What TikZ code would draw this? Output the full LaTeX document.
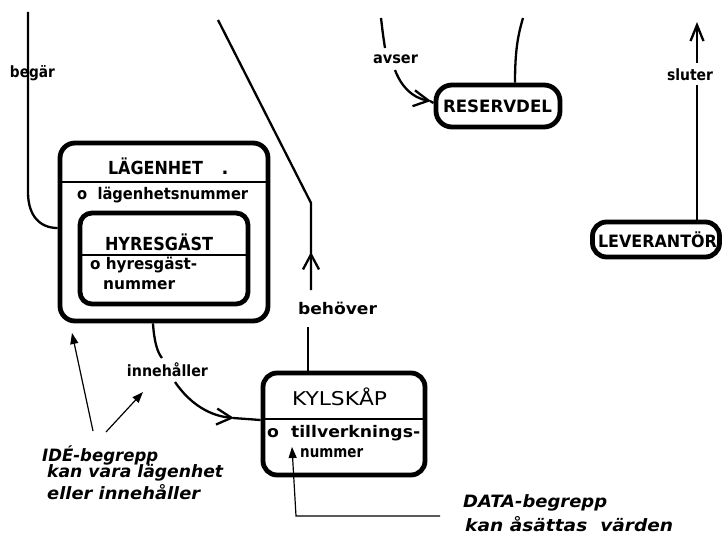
\documentclass[tikz,border=0pt]{standalone}
\usepackage{fontspec}
\setmainfont{DejaVu Sans}
\usetikzlibrary{arrows.meta}
\newcommand\tw[2]{\resizebox{#1}{\height}{#2}}
\begin{document}
\begin{tikzpicture}[x=1pt,y=-1pt,
  ebox/.style={draw, line width=4.8pt, inner sep=0pt},
  conn/.style={line width=2.3pt},
  divider/.style={line width=1.2pt},
  barb/.style={-{Straight Barb[length=15pt,width=16pt]}},
  thinarr/.style={line width=1.2pt,-{Triangle[length=11pt,width=8pt]}},
  lbl/.style={inner sep=0pt, font=\bfseries\fontsize{15.5}{16}\selectfont},
  head/.style={inner sep=0pt, font=\bfseries\fontsize{18}{19}\selectfont},
  attr/.style={inner sep=0pt, anchor=west, font=\bfseries\fontsize{16}{17}\selectfont},
  note/.style={inner sep=0pt, anchor=west, font=\bfseries\itshape\fontsize{17}{18}\selectfont}]
\useasboundingbox (0,0) rectangle (725,535);

% boxes
\node[ebox, rounded corners=15pt, minimum width=208pt, minimum height=178pt] (lag) at (164,232) {};
\node[ebox, rounded corners=12pt, minimum width=168pt, minimum height=91pt] (hyr) at (164,258.5) {};
\node[ebox, rounded corners=14pt, minimum width=162pt, minimum height=102pt] (kyl) at (344,424) {};
\node[ebox, rounded corners=16pt, minimum width=124pt, minimum height=42pt] (res) at (498,106) {};
\node[ebox, rounded corners=14pt, minimum width=127pt, minimum height=35pt] (lev) at (656,239.5) {};

\draw[divider] (lag.west |- 0,182) -- (lag.east |- 0,182);
\draw[divider] (hyr.west |- 0,255) -- (hyr.east |- 0,255);
\draw[divider] (kyl.west |- 0,419) -- (kyl.east |- 0,419);

% box texts
\node[head, anchor=base] (lagT) at (155.5,174) {\tw{95pt}{LÄGENHET}};
\node[head, anchor=base] (lagDot) at (225,174) {.};
\node[attr] (lagA) at (77,195) {\tw{171pt}{o\ \ lägenhetsnummer}};
\node[head] (hyrT) at (159,242) {\tw{108pt}{HYRESGÄST}};
\node[attr] (hyrA1) at (90,265) {\tw{107pt}{o hyresgäst-}};
\node[attr] (hyrA2) at (103,285) {\tw{72pt}{nummer}};
\node[inner sep=0pt, font=\fontsize{19}{20}\selectfont] (kylT) at (339.5,397) {\tw{95pt}{KYLSKÅP}};
\node[attr] (kylA1) at (267,433) {\tw{153pt}{o\ \ tillverknings-}};
\node[attr] (kylA2) at (300,453) {\tw{63pt}{nummer}};
\node[head, font=\bfseries\fontsize{17}{18}\selectfont] (resT) at (497.5,106) {\tw{109pt}{RESERVDEL}};
\node[head, font=\bfseries\fontsize{17}{18}\selectfont] (levT) at (657.5,240) {\tw{119pt}{LEVERANTÖR}};

% connector labels
\node[lbl] (begar) at (32.5,73) {\tw{45pt}{begär}};
\node[lbl, font=\bfseries\fontsize{16}{17}\selectfont] (behover) at (337.5,308) {\tw{79pt}{behöver}};
\node[lbl] (innehaller) at (167.5,370) {\tw{81pt}{innehåller}};
\node[lbl] (avser) at (395.5,59) {\tw{45pt}{avser}};
\node[lbl] (sluter) at (690,75) {\tw{46pt}{sluter}};

% free ends
\coordinate (begtop) at (28,12);
\coordinate (diagtop) at (218,20);
\coordinate (avtop) at (381,18);
\coordinate (restop) at (523,18);
\coordinate (slutop) at (697,22);

% begär
\draw[conn] (begtop) -- (28,192) .. controls (28,216) and (40,228) .. ([yshift=4pt]lag.west);
% behöver
\draw[conn] (diagtop) -- (311,203) -- (311,290);
\draw[conn,barb] (311,282) -- (311,252);
\draw[conn] ([xshift=-36pt]kyl.north) -- (308,327);
% innehåller
\draw[conn] ([xshift=-11pt]lag.south) .. controls (154,340) and (157,352) .. (162,358);
\draw[conn,barb] (175,382) .. controls (190,404) and (210,416) .. (234,418);
\draw[conn] (233,418) -- ([yshift=4pt]kyl.west);
% avser
\draw[conn] (avtop) .. controls (383,35) .. (385,48);
\draw[conn,barb] (395,70) .. controls (401,86) and (412,98) .. (431,101);
\draw[conn] (430,101) -- ([yshift=3pt]res.west);
% reservdel upward line
\draw[conn] ([xshift=17pt]res.north) .. controls (515,50) and (518,35) .. (restop);
% sluter
\draw[conn] ([xshift=41pt]lev.north) -- (697,85);
\draw[conn,-{Straight Barb[length=16pt,width=13pt]}] (697,63) -- (slutop);

% notes
\node[note] (ide1) at (42,455) {\tw{116pt}{IDÉ-begrepp}};
\node[note] (ide2) at (47,473) {\tw{176pt}{kan vara lägenhet}};
\node[note] (ide3) at (47,492) {\tw{153pt}{eller innehåller}};
\node[note] (data1) at (463,503) {\tw{144pt}{DATA-begrepp}};
\node[note] (data2) at (465,524) {\tw{208pt}{kan åsättas\ \ värden}};

\coordinate (ideA) at (93,431);
\coordinate (ideB) at (106,432);
\coordinate (ideAtip) at (72,333);
\coordinate (ideBtip) at (143,392);
\coordinate (dataend) at (440,516);
\coordinate (datatip) at (292,447);
\draw[thinarr] (ideA) -- (ideAtip);
\draw[thinarr] (ideB) -- (ideBtip);
\draw[thinarr] (dataend) -- (296,516) -- (datatip);
\end{tikzpicture}
\end{document}
